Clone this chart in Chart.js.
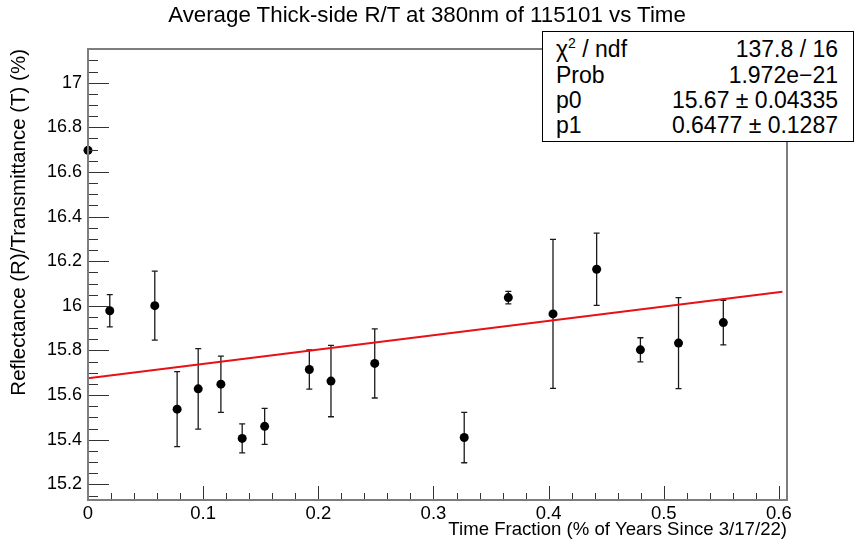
<!DOCTYPE html>
<html>
<head>
<meta charset="utf-8">
<script src="https://cdn.jsdelivr.net/npm/chart.js@4.4.0/dist/chart.umd.min.js"></script>
<style>
    html, body { margin: 0; padding: 0; background: #fff; }
    #wrap { position: relative; width: 854px; height: 541px; font-family: "Liberation Sans", Arial, sans-serif; color: #000; }
    #rtChart { position: absolute; left: 0; top: 0; }
    #title { position: absolute; left: 0; top: 2px; width: 854px; text-align: center; font-size: 22.3px; line-height: 25px; }
    #stats { position: absolute; left: 542px; top: 31px; width: 312px; height: 111px; box-sizing: border-box;
             border: 1.5px solid #000; background: #fff; font-size: 23px; }
    #stats .row { position: absolute; left: 13px; right: 15px; height: 25px; line-height: 25px;
                  display: flex; justify-content: space-between; white-space: nowrap; }
    #stats sup { font-size: 14px; line-height: 0; vertical-align: 9px; }
</style>
</head>
<body>
<div id="wrap">
    <canvas id="rtChart" width="854" height="541"></canvas>
    <div id="title">Average Thick-side R/T at 380nm of 115101 vs Time</div>
    <div id="stats"></div>
</div>
<script>
const xValues = [0, 0.0189, 0.058, 0.0774, 0.0957, 0.1154, 0.1339, 0.1534, 0.1922,
                 0.211, 0.249, 0.3267, 0.365, 0.4038, 0.4417, 0.4797, 0.5128, 0.5517];
const yValues = [16.697, 15.978, 16.001, 15.537, 15.628, 15.649, 15.406, 15.460, 15.715,
                 15.663, 15.742, 15.410, 16.037, 15.964, 16.164, 15.803, 15.833, 15.925];
const yErrors = [0, 0.072, 0.155, 0.168, 0.180, 0.126, 0.065, 0.081, 0.088,
                 0.160, 0.155, 0.113, 0.028, 0.334, 0.162, 0.054, 0.204, 0.100];

const fitX = [0, 0.603];
const fitY = [15.676, 16.063];

const xTickValues = [0, 0.1, 0.2, 0.3, 0.4, 0.5, 0.6];
const xTickLabels = ["0", "0.1", "0.2", "0.3", "0.4", "0.5", "0.6"];
const yTickValues = [15.2, 15.4, 15.6, 15.8, 16, 16.2, 16.4, 16.6, 16.8, 17];
const yTickLabels = ["15.2", "15.4", "15.6", "15.8", "16", "16.2", "16.4", "16.6", "16.8", "17"];

const statLabels = ["χ<sup>2</sup> / ndf", "Prob", "p0", "p1"];
const statValues = ["137.8 / 16", "1.972e\u221221", "15.67 \u00b1 0.04335", "0.6477 \u00b1 0.1287"];
const statTops = [5, 30.5, 56, 81];

function fillStats() {
    const box = document.getElementById("stats");
    statLabels.forEach((lab, i) => {
        const row = document.createElement("div");
        row.className = "row";
        row.style.top = statTops[i] + "px";
        row.innerHTML = "<span>" + lab + "</span><span>" + statValues[i] + "</span>";
        box.appendChild(row);
    });
}

// ROOT style: grey frame, ticks pointing inward, error bars with small caps
const rootFrame = {
    id: "rootFrame",
    beforeDatasetsDraw(chart) {
        const ctx = chart.ctx;
        const xs = chart.scales.x;
        const ys = chart.scales.y;
        ctx.save();
        ctx.strokeStyle = "#1a1a1a";
        ctx.lineWidth = 1.3;
        xValues.forEach((xv, i) => {
            if (!yErrors[i]) return;
            const px = xs.getPixelForValue(xv);
            const top = ys.getPixelForValue(yValues[i] + yErrors[i]);
            const bot = ys.getPixelForValue(yValues[i] - yErrors[i]);
            ctx.beginPath();
            ctx.moveTo(px, top);
            ctx.lineTo(px, bot);
            ctx.moveTo(px - 3, top);
            ctx.lineTo(px + 3, top);
            ctx.moveTo(px - 3, bot);
            ctx.lineTo(px + 3, bot);
            ctx.stroke();
        });
        ctx.restore();
    },
    afterDraw(chart) {
        const ctx = chart.ctx;
        const a = chart.chartArea;
        const xs = chart.scales.x;
        const ys = chart.scales.y;
        ctx.save();
        ctx.strokeStyle = "#333";
        ctx.lineWidth = 1;
        ctx.beginPath();
        for (let k = 0; k * 0.02 <= xs.max + 1e-9; k++) {
            const px = Math.round(xs.getPixelForValue(k * 0.02)) + 0.5;
            const len = k % 5 === 0 ? 14 : 7;
            ctx.moveTo(px, a.bottom);
            ctx.lineTo(px, a.bottom - len);
        }
        for (let k = Math.ceil(ys.min / 0.05); k * 0.05 <= ys.max + 1e-9; k++) {
            const py = Math.round(ys.getPixelForValue(k * 0.05)) + 0.5;
            const len = k % 4 === 0 ? 21 : 10;
            ctx.moveTo(a.left, py);
            ctx.lineTo(a.left + len, py);
        }
        ctx.stroke();
        ctx.strokeStyle = "#7d7d7d";
        ctx.lineWidth = 2;
        ctx.strokeRect(a.left, a.top, a.right - a.left, a.bottom - a.top);
        ctx.restore();
    }
};

function drawChart() {
    const ctx = document.getElementById("rtChart").getContext("2d");
    const points = xValues.map((x, i) => ({ x: x, y: yValues[i] }));
    const fitLine = fitX.map((x, i) => ({ x: x, y: fitY[i] }));

    new Chart(ctx, {
        type: "scatter",
        data: {
            datasets: [
                {
                    type: "line",
                    data: fitLine,
                    borderColor: "rgb(232, 16, 20)",
                    borderWidth: 2,
                    pointRadius: 0,
                    fill: false
                },
                {
                    data: points,
                    backgroundColor: "#000",
                    borderWidth: 0,
                    pointRadius: 4.5,
                    clip: false
                }
            ]
        },
        options: {
            responsive: false,
            devicePixelRatio: 1,
            animation: false,
            layout: { padding: { top: 49, right: 67, left: 0, bottom: 0 } },
            plugins: {
                legend: { display: false },
                tooltip: { enabled: false }
            },
            scales: {
                x: {
                    type: "linear",
                    min: 0,
                    max: 0.607,
                    grid: { display: false, drawTicks: false },
                    border: { display: false },
                    afterBuildTicks: (s) => { s.ticks = xTickValues.map(v => ({ value: v })); },
                    afterFit: (s) => { s.height = 41; },
                    ticks: {
                        padding: 3,
                        color: "#000",
                        maxRotation: 0,
                        font: { family: "Liberation Sans", size: 18.5 },
                        callback: (v, i) => xTickLabels[i]
                    },
                    title: {
                        display: true,
                        text: "Time Fraction (% of Years Since 3/17/22)",
                        align: "end",
                        color: "#000",
                        padding: { top: 0, bottom: 0 },
                        font: { family: "Liberation Sans", size: 18.6 }
                    }
                },
                y: {
                    min: 15.13,
                    max: 17.151,
                    grid: { display: false, drawTicks: false },
                    border: { display: false },
                    afterBuildTicks: (s) => { s.ticks = yTickValues.map(v => ({ value: v })); },
                    afterFit: (s) => { s.width = 88; },
                    ticks: {
                        padding: 6,
                        color: "#000",
                        font: { family: "Liberation Sans", size: 18 },
                        callback: (v, i) => yTickLabels[i]
                    },
                    title: {
                        display: true,
                        text: "Reflectance (R)/Transmittance (T) (%)",
                        align: "end",
                        color: "#000",
                        padding: { top: 7, bottom: 0 },
                        font: { family: "Liberation Sans", size: 20.5 }
                    }
                }
            }
        },
        plugins: [rootFrame]
    });
}

fillStats();
drawChart();
</script>
</body>
</html>
